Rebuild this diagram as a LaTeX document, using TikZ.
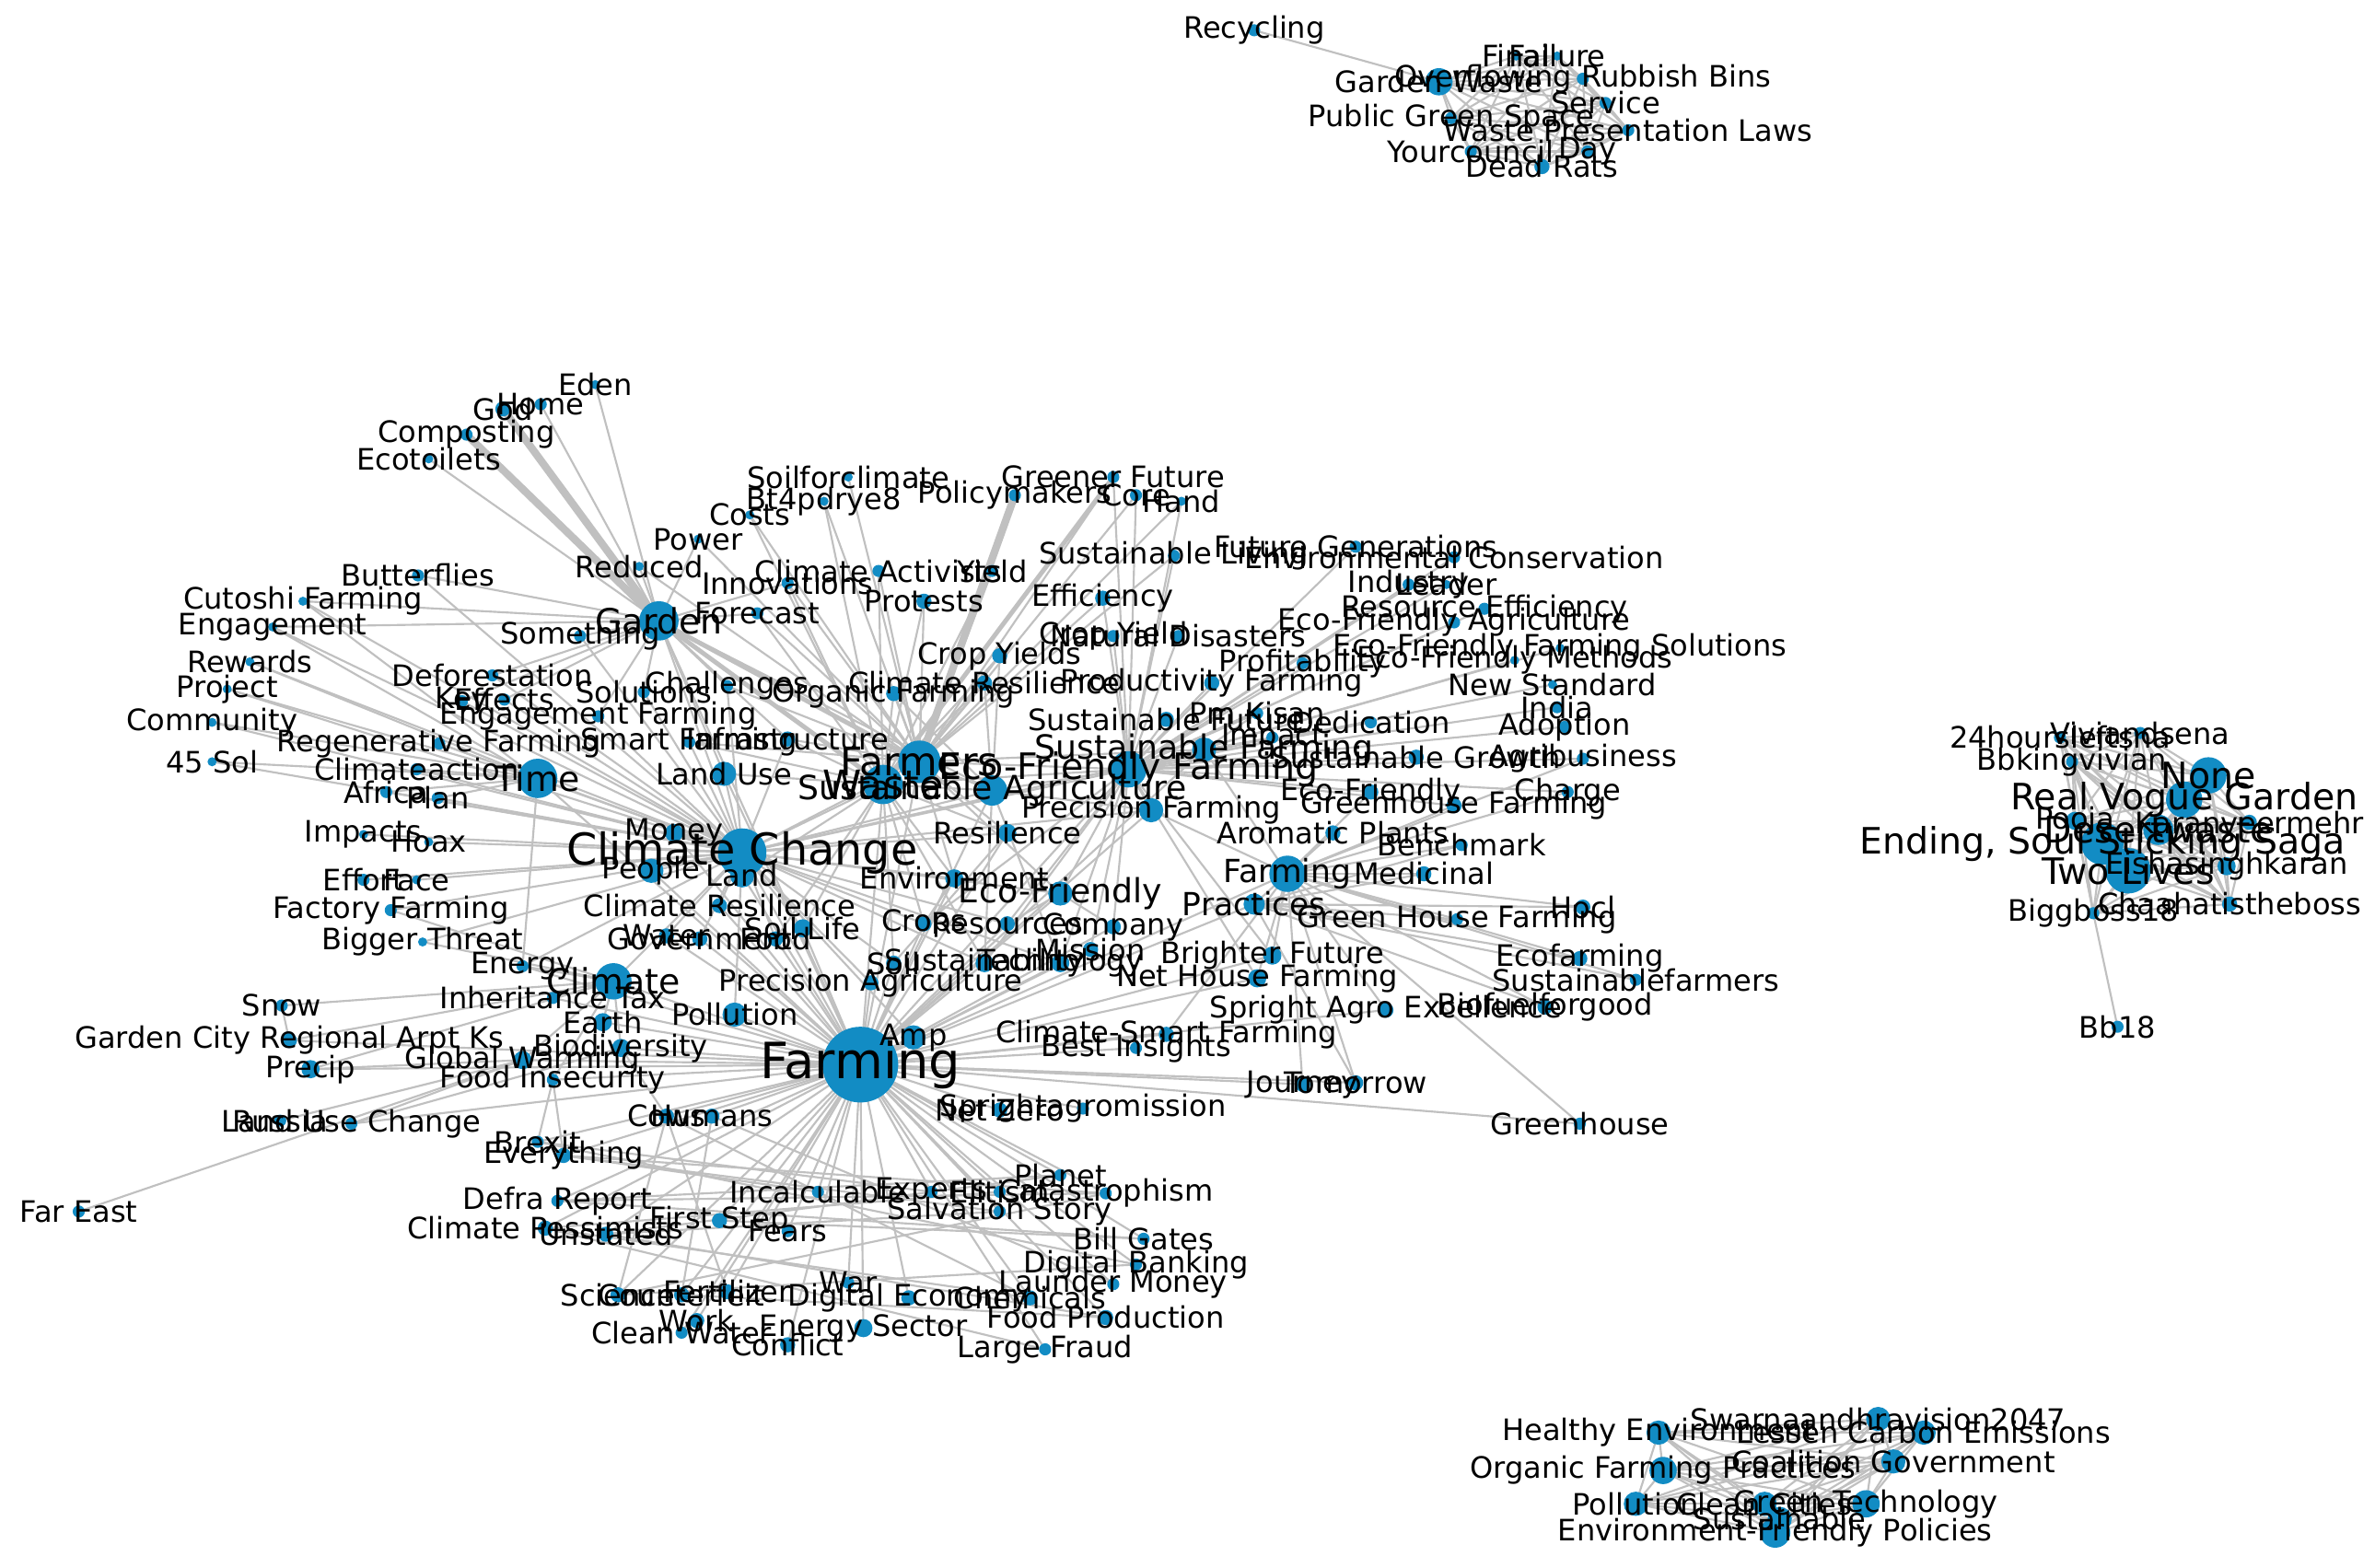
\documentclass[tikz,border=0pt]{standalone}
\usepackage{fontspec}
\setmainfont{DejaVu Sans}
\definecolor{dotblue}{RGB}{18,140,196}
\definecolor{edgegray}{RGB}{192,192,192}
\tikzset{
  edge/.style={draw=edgegray,line width=1.3pt},
  fatedge/.style={draw=edgegray,line width=5pt},
  lbl/.style={inner sep=0pt,text=black}
}
\begin{document}
\begin{tikzpicture}[x=1pt,y=-1pt]
\useasboundingbox (0,0) rectangle (1568,1035);
\fill[white] (0,0) rectangle (1568,1035);
\def\nodelist{%
rec/828/20/4/19.5/Recycling,
fin/1001/37/3/19.5/Final,
fai/1028/37/3/19.5/Failure,
gw/950/54/9/19.5/Garden Waste,
orb/1045/52/4/19.5/Overflowing Rubbish Bins,
ser/1060/68/4/19.5/Service,
pgs/958/78/4/19.5/Public Green Space,
wpl/1075/86/4/19.5/Waste Presentation Laws,
ycl/971/100/4/19.5/Yourcouncil,
day/1048/100/4/19.5/Day,
drt/1018/110/5/19.5/Dead Rats,
v24/1360/487/4/19.5/24hoursleftsna,
viv/1413/484/4/19.5/Viviandsena,
bbk/1368/503/4/19.5/Bbkingvivian,
non/1458/512/12/24/None,
rvg/1442/528/12/24/Real Vogue Garden,
kvm/1485/543/5/19.5/Karanveermehr,
pon/1370/542/6/19.5/Pooja,
dsw/1425/548/10/24/Desertwaste,
esg/1388/557/14/24/{Ending, Soul Sticking Saga},
twl/1405/575/15/24/Two Lives,
esk/1470/572/6/19.5/Eishasinghkaran,
chb/1472/597/5/19.5/Chaahatistheboss,
bbb/1382/603/4/19.5/Biggboss18,
b18/1398/678/4/19.5/Bb18,
swa/1240/937/8/19.5/Swarnaandhravision2047,
hen/1095/946/8/19.5/Healthy Environment,
lce/1270/946/8/19.5/Lessen Carbon Emissions,
cog/1250/965/8/19.5/Coalition Government,
ofp/1098/971/9/19.5/Organic Farming Practices,
plb/1080/993/8/19.5/Pollution,
gct/1232/993/9/19.5/Green Technology,
cln/1165/993/8/19.5/Clean Cities,
sus/1175/1003/8/19.5/Sustainable,
efp/1172/1012/10/19.5/Environment-Friendly Policies,
edn/393/254/3/19.5/Eden,
hom/357/267/4/19.5/Home,
god/332/270/5/19.5/God,
cmp/308/287/4/19.5/Composting,
eco/283/303/3/19.5/Ecotoilets,
but/276/380/4/19.5/Butterflies,
cut/200/397/3/19.5/Cutoshi Farming,
eng/180/414/3/19.5/Engagement,
rew/165/437/3/19.5/Rewards,
prj/150/455/3/19.5/Project,
com/140/477/3/19.5/Community,
sfs/140/503/3/19.5/45 Sol,
def/325/446/4/19.5/Deforestation,
key/305/463/4/19.5/Key,
eff/333/462/4/19.5/Effects,
enf/395/473/4/19.5/Engagement Farming,
reg/290/491/4/19.5/Regenerative Farming,
cla/275/508/4/19.5/Climateaction,
afr/255/523/4/19.5/Africa,
pln/289/527/4/19.5/Plan,
imp/240/551/3/19.5/Impacts,
hox/283/556/3/19.5/Hoax,
efo/240/581/4/19.5/Effort,
fac/275/581/3/19.5/Face,
ffa/258/601/4/19.5/Factory Farming,
bth/279/622/3/19.5/Bigger Threat,
tim/355/514/13/23/Time,
gar/435/410/13/23/Garden,
som/383/420/4/19.5/Something,
red/422/374/3/19.5/Reduced,
pow/461/356/3/19.5/Power,
cst/495/340/3/19.5/Costs,
btp/544/331/3/19.5/Bt4pdrye8,
sfc/560/315/3/19.5/Soilforclimate,
gfu/735/315/4/19.5/Greener Future,
pmk/670/327/4/19.5/Policymakers,
cor/750/327/4/19.5/Core,
hnd/780/331/3/19.5/Hand,
sln/425/457/4/19.5/Solutions,
chl/480/453/4/19.5/Challenges,
cac/580/377/4/19.5/Climate Activists,
yld/655/377/4/19.5/Yield,
inn/520/385/4/19.5/Innovations,
prt/610/397/5/19.5/Protests,
frc/500/405/4/19.5/Forecast,
cyd/660/433/5/19.5/Crop Yields,
efc/728/395/5/19.5/Efficiency,
cyl/735/420/4/19.5/Crop Yield,
ndi/778/420/4/19.5/Natural Disasters,
slv/775/367/4/19.5/Sustainable Living,
fgn/895/361/4/19.5/Future Generations,
ecv/960/368/4/19.5/Environmental Conservation,
ind/930/386/4/19.5/Industry,
ldr/955/386/3/19.5/Leader,
ref/980/402/4/19.5/Resource Efficiency,
efa/960/411/4/19.5/Eco-Friendly Agriculture,
efs/1030/428/3/19.5/Eco-Friendly Farming Solutions,
efm/1000/436/3/19.5/Eco-Friendly Methods,
pfb/860/438/4/19.5/Profitability,
pdv/800/451/5/19.5/Productivity Farming,
crs/650/451/5/19.5/Climate Resilience,
ofm/590/458/5/19.5/Organic Farming,
nst/1025/452/3/19.5/New Standard,
ina/1028/467/4/19.5/India,
adp/1033/480/4/19.5/Adoption,
pmn/830/471/4/19.5/Pm Kisan,
ddc/905/477/4/19.5/Dedication,
sfu/770/475/5/19.5/Sustainable Future,
ipc/840/487/4/19.5/Impact,
sgr/935/500/5/19.5/Sustainable Growth,
agb/1045/501/4/19.5/Agribusiness,
efr/905/523/5/19.5/Eco-Friendly,
chg/1035/523/4/19.5/Charge,
ghf/960/532/5/19.5/Greenhouse Farming,
arp/880/550/5/19.5/Aromatic Plants,
bmk/965/558/4/19.5/Benchmark,
med/940/577/5/19.5/Medicinal,
hcl/1045/599/5/19.5/Hocl,
ghs/962/607/4/19.5/Green House Farming,
ecf/1043/633/5/19.5/Ecofarming,
sfr/1080/647/4/19.5/Sustainablefarmers,
bfg/1020/665/5/19.5/Biofuelforgood,
sae/915/667/5/19.5/Spright Agro Excellence,
bfu/840/631/6/19.5/Brighter Future,
nhf/830/646/6/19.5/Net House Farming,
mis/720/627/5/19.5/Mission,
csf/770/683/5/19.5/Climate-Smart Farming,
bin/750/692/4/19.5/Best Insights,
sam/715/732/4/19.5/Sprightagromission,
nzr/660/733/5/19.5/Net Zero,
jrn/860/716/5/19.5/Journey,
tmw/895/715/5/19.5/Tomorrow,
grh/1043/742/4/19.5/Greenhouse,
fp/850/577/12/21/Farming,
pra/828/597/7/21/Practices,
wst/583/518/13/26/Waste,
fmr/607/503/14/26/Farmers,
efg/745/508/12/24/Eco-Friendly Farming,
sag/655/522/10/22/Sustainable Agriculture,
spf/795/495/8/22/Sustainable Farming,
smt/455/490/4/19.5/Smart Farming,
inf/520/488/5/19.5/Infrastructure,
pfm/760/535/8/19.5/Precision Farming,
rsl/665/550/6/19.5/Resilience,
env/630/580/6/19.5/Environment,
ecr/700/590/8/22/Eco-Friendly,
crp/610/610/5/19.5/Crops,
rsc/665/610/5/19.5/Resources,
cpy/735/612/5/19.5/Company,
soi/590/636/5/19.5/Soil,
sst/650/636/6/19.5/Sustainability,
tec/700/636/6/19.5/Technology,
slf/530/613/6/19.5/Soil Life,
wtr/440/618/5/19.5/Water,
gov/462/620/5/19.5/Government,
fod/512/620/5/19.5/Food,
cre/475/598/5/19.5/Climate Resilience,
mny/445/550/6/19.5/Money,
ppl/430/575/8/19.5/People,
lnd/490/578/8/19.5/Land,
lus/478/511/8/19.5/Land Use,
pag/575/649/5/19.5/Precision Agriculture,
plt/485/670/8/19.5/Pollution,
amp/603/685/8/19.5/Amp,
cc/490/563/16/29/Climate Change,
cli/405/648/12/23/Climate,
enr/345/638/4/19.5/Energy,
itx/365/659/4/19.5/Inheritance Tax,
ear/398/675/6/19.5/Earth,
bio/410/692/6/19.5/Biodiversity,
gwm/345/700/6/19.5/Global Warming,
fis/365/713/4/19.5/Food Insecurity,
cow/440/737/5/19.5/Cows,
hum/470/737/5/19.5/Humans,
brx/355/754/4/19.5/Brexit,
evr/372/763/5/19.5/Everything,
dfr/368/793/4/19.5/Defra Report,
cpe/360/811/5/19.5/Climate Pessimists,
uns/400/815/5/19.5/Unstated,
fst/475/806/5/19.5/First Step,
fea/520/813/4/19.5/Fears,
inc/540/787/4/19.5/Incalculable,
exq/615/787/4/19.5/Experts,
eli/660/787/4/19.5/Elitism,
cat/730/788/4/19.5/Catastrophism,
pla/700/776/4/19.5/Planet,
svs/660/800/4/19.5/Salvation Story,
bgt/755/818/4/19.5/Bill Gates,
dbk/750/835/4/19.5/Digital Banking,
lmo/735/848/4/19.5/Launder Money,
sci/408/855/5/19.5/Science,
cft/450/855/5/19.5/Counterfeit,
fer/480/853/5/19.5/Fertilizer,
war/560/847/4/19.5/War,
dec/600/857/5/19.5/Digital Economy,
chm/680/857/5/19.5/Chemicals,
fpd/730/870/5/19.5/Food Production,
wrk/460/872/5/19.5/Work,
clw/450/880/4/19.5/Clean Water,
esc/570/877/6/19.5/Energy Sector,
cnf/520/888/5/19.5/Conflict,
frd/690/891/4/19.5/Large Fraud,
snw/186/664/4/19.5/Snow,
gcr/191/687/5/19.5/Garden City Regional Arpt Ks,
prc/205/706/6/19.5/Precip,
rus/185/740/4/19.5/Russia,
luc/232/742/4/19.5/Land Use Change,
fes/52/800/4/19.5/Far East,
frm/568/703/25/33/Farming}
\foreach \nm/\px/\py/\rad/\fs/\lab in \nodelist {\coordinate (\nm) at (\px,\py);}
% clusters
\foreach \a [count=\i] in {fin,fai,gw,orb,ser,pgs,wpl,ycl,day,drt}{
  \foreach \b [count=\j] in {fin,fai,gw,orb,ser,pgs,wpl,ycl,day,drt}{
    \ifnum\i<\j \draw[edge] (\a) -- (\b);\fi}}
\draw[edge] (rec) -- (gw);
\foreach \a [count=\i] in {v24,viv,bbk,non,rvg,kvm,pon,dsw,esg,twl,esk,chb,bbb}{
  \foreach \b [count=\j] in {v24,viv,bbk,non,rvg,kvm,pon,dsw,esg,twl,esk,chb,bbb}{
    \ifnum\i<\j \draw[edge] (\a) -- (\b);\fi}}
\draw[edge] (b18) -- (bbb);
\foreach \a [count=\i] in {swa,hen,lce,cog,ofp,plb,gct,cln,sus,efp}{
  \foreach \b [count=\j] in {swa,hen,lce,cog,ofp,plb,gct,cln,sus,efp}{
    \ifnum\i<\j \draw[edge] (\a) -- (\b);\fi}}
% main hubs
\foreach \b in {edn,hom,eco,but,red,pow,som,sln,chl,def,eff,cut,eng,frc,inn,enf,key,sag,inf,lus}
  \draw[edge] (gar) -- (\b);
\draw[fatedge] (god) -- (gar);
\draw[fatedge] (cmp) -- (gar);
\draw[edge,line width=3pt] (gar) -- (fmr);
\draw[edge,line width=3pt] (gar) -- (wst);
\draw[fatedge] (pmk) -- (fmr);
\draw[edge,line width=3pt] (gfu) -- (wst);
\foreach \b in {tim,imp,hox,efo,fac,ffa,bth,afr,pln,cla,reg,enf,key,eff,def,eng,cut,but,mny,ppl,lnd,cli,enr,wtr,gov,lus,smt,inf,chl,sln,som,gar,wst,fmr,rsl,cre,fod,slf,sfs,com,prj,rew,sag,efg,env,ecr,crp,rsc,soi,sst,tec,pag,plt,amp,spf,pfm}
  \draw[edge] (cc) -- (\b);
\foreach \b in {prj,com,sfs,rew,eng,cla,afr,pln,reg,enr,cut}
  \draw[edge] (tim) -- (\b);
\foreach \b in {snw,gcr,prc,enr,itx,ear,bio,gwm,fis,bth,ffa}
  \draw[edge] (cli) -- (\b);
\foreach \b in {rus,luc,fes,prc}
  \draw[edge] (gwm) -- (\b);
\draw[edge] (snw) -- (gcr);
\draw[edge] (luc) -- (bio);
\foreach \b in {cow,hum,brx,evr,dfr,cpe,uns,fst,fea,inc,exq,eli,cat,pla,svs,bgt,dbk,lmo,sci,cft,fer,war,dec,chm,fpd,wrk,clw,esc,cnf,frd,nzr,sam,jrn,tmw,csf,bin,amp,plt,pag,fis,bio,ear,gwm,itx,enr,gcr,prc,luc,wst,fmr,soi,sst,tec,crp,rsc,cpy,mis,bfu,nhf,rsl,env,lnd,ppl,mny,wtr,gov,fod,slf,cre,efg,fp,pra,ecr,pfm,sag,spf,lus,tim,cli,cc,grh,sae,gar}
  \draw[edge] (frm) -- (\b);
\foreach \a/\b in {dfr/cat,dfr/pla,cpe/eli,uns/svs,fst/bgt,sci/dbk,cft/fpd,evr/inc,brx/exq,hum/lmo,cow/chm,cpe/frd,evr/cat,sci/cat,dfr/bgt,uns/pla,cow/sci,hum/cft,cow/fer,evr/svs,brx/dbk,cpe/chm,uns/fpd,fis/evr,fis/brx,bio/cow}
  \draw[edge] (\a) -- (\b);
\foreach \b in {cac,yld,prt,btp,cst,sfc,gfu,cor,hnd,cyd,efc,inn,frc,crs,ofm,chl,pow,red,slv,sag,efg,spf,inf,smt,rsl,env,ecr}
  \draw[edge] (fmr) -- (\b);
\foreach \b in {cac,prt,inn,frc,cyd,crs,ofm,yld,btp,cst,sag,efg,inf,smt,lus,rsl,env,crp,soi,sst,slf,fod,lnd}
  \draw[edge] (wst) -- (\b);
\foreach \b in {fgn,ecv,ind,ldr,ref,efa,efs,efm,nst,ina,adp,agb,sgr,chg,ghf,efr,ddc,pmn,pfb,efc,ndi,cyl,hnd,cor,gfu,slv,pdv,ipc,sfu,spf,pfm,sag,ecr,crp,rsc,cpy,tec,sst,mis,bfu,nhf}
  \draw[edge] (efg) -- (\b);
\foreach \b in {hcl,ghs,ecf,sfr,bfg,sae,grh,tmw,jrn,bmk,arp,med,bfu,nhf,agb,chg,ghf,efr,csf,pra,spf,pfm}
  \draw[edge] (fp) -- (\b);
\foreach \b in {hcl,ghs,ecf,sfr,bfg,bmk,med,tmw}
  \draw[edge] (pra) -- (\b);
\foreach \a/\b in {sag/tec,sag/sst,ecr/rsc,ecr/cpy,env/crp,rsl/soi,sag/pfm,spf/ipc,spf/pmn,spf/ddc,sag/cyd,sag/crs,sag/ofm}
  \draw[edge] (\a) -- (\b);
% dots
\foreach \nm/\px/\py/\rad/\fs/\lab in \nodelist {\fill[dotblue] (\nm) circle (\rad pt);}
% labels
\foreach \nm/\px/\py/\rad/\fs/\lab in \nodelist {
  \node[lbl,font=\fontsize{\fs}{\fs}\selectfont] (\nm-l) at (\nm) {\lab};}
\end{tikzpicture}
\end{document}
